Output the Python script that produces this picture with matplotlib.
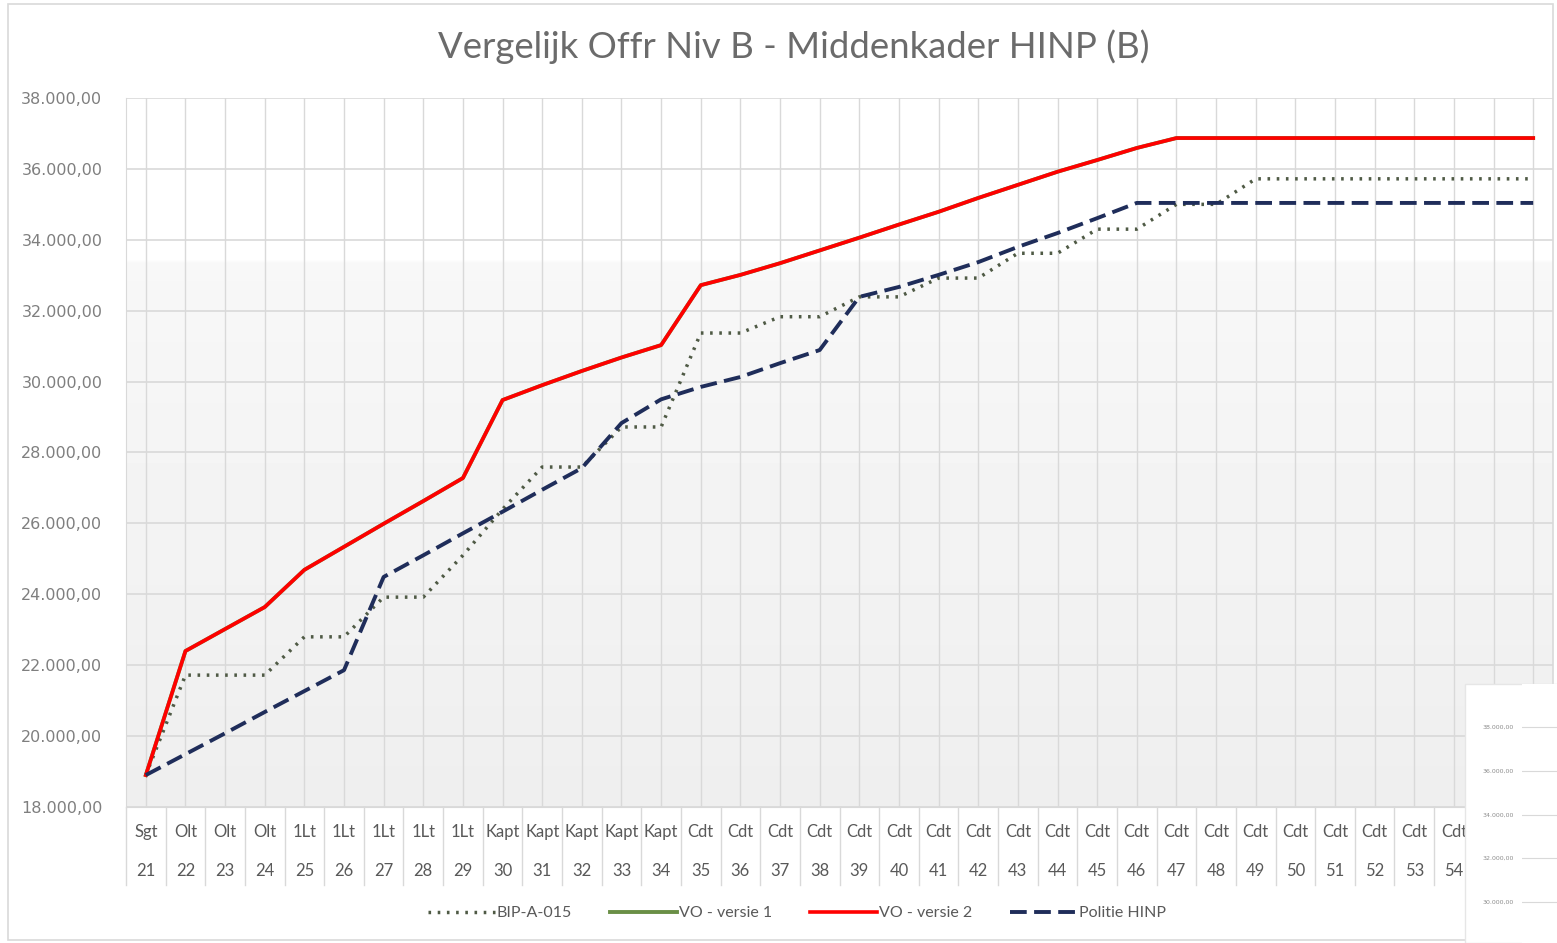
import matplotlib
matplotlib.use("Agg")
import matplotlib.pyplot as plt
import matplotlib.transforms as mtransforms
from matplotlib.patches import Rectangle
import numpy as np

# ---------------- data ----------------
ages = [21, 22, 23, 24, 25, 26, 27, 28, 29, 30, 31, 32, 33, 34, 35, 36, 37, 38,
        39, 40, 41, 42, 43, 44, 45, 46, 47, 48, 49, 50, 51, 52, 53, 54, 55, 56]
ranks = ["Sgt", "Olt", "Olt", "Olt", "1Lt", "1Lt", "1Lt", "1Lt", "1Lt",
         "Kapt", "Kapt", "Kapt", "Kapt", "Kapt",
         "Cdt", "Cdt", "Cdt", "Cdt", "Cdt", "Cdt", "Cdt", "Cdt", "Cdt", "Cdt", "Cdt",
         "Cdt", "Cdt", "Cdt", "Cdt", "Cdt", "Cdt", "Cdt", "Cdt", "Cdt", "Cdt", "Cdt"]

bip_a_015 = [18900, 21720, 21720, 21720, 22800, 22800, 23920, 23920, 25100, 26400,
             27590, 27590, 28720, 28720, 31370, 31370, 31830, 31830, 32390, 32390,
             32920, 32920, 33620, 33620, 34300, 34300, 35000, 35000, 35720, 35720,
             35720, 35720, 35720, 35720, 35720, 35720]
vo_versie_1 = [18900, 22400, 23020, 23640, 24690, 25340, 25990, 26630, 27280, 29480,
               29900, 30300, 30680, 31030, 32720, 33010, 33340, 33700, 34060, 34430,
               34790, 35180, 35550, 35920, 36250, 36590, 36870, 36870, 36870, 36870,
               36870, 36870, 36870, 36870, 36870, 36870]
vo_versie_2 = [18900, 22400, 23020, 23640, 24690, 25340, 25990, 26630, 27280, 29480,
               29900, 30300, 30680, 31030, 32720, 33010, 33340, 33700, 34060, 34430,
               34790, 35180, 35550, 35920, 36250, 36590, 36870, 36870, 36870, 36870,
               36870, 36870, 36870, 36870, 36870, 36870]
politie_hinp = [18900, 19490, 20080, 20680, 21270, 21860, 24490, 25100, 25720, 26330,
                26950, 27560, 28830, 29500, 29850, 30130, 30520, 30890, 32390, 32670,
                33010, 33370, 33800, 34190, 34610, 35040, 35040, 35040, 35040, 35040,
                35040, 35040, 35040, 35040, 35040, 35040]

y_ticks = [18000, 20000, 22000, 24000, 26000, 28000, 30000, 32000, 34000, 36000, 38000]
inset_ticks = [30000, 32000, 34000, 36000, 38000]

title = "Vergelijk Offr Niv B - Middenkader HINP (B)"

# ---------------- figure ----------------
W, H = 1557, 943
fig = plt.figure(figsize=(W / 100, H / 100), dpi=100)
fig.patch.set_facecolor("white")

def fx(px):
    return px / W

def fy(py):
    return 1 - py / H

def fmt(v):
    return f"{v:,.2f}".replace(",", "X").replace(".", ",").replace("X", ".")

# outer chart border
fig.patches.append(Rectangle((fx(8), fy(940)), fx(1553) - fx(8), fy(4) - fy(940),
                             transform=fig.transFigure, facecolor="none",
                             edgecolor="#d9d9d9", lw=1.2, zorder=0))

ax_l, ax_r, ax_t, ax_b = 126, 1553, 98, 807
ax = fig.add_axes([fx(ax_l), fy(ax_b), fx(ax_r) - fx(ax_l), fy(ax_t) - fy(ax_b)])
ax.set_xlim(20.5, 56.5)
ax.set_ylim(18000, 38000)

# background gradient in plot area
grad = np.ones((200, 1))
vals = np.linspace(0, 1, 200)  # 0 bottom, 1 top
grad[:, 0] = np.where(vals > 0.77, 1.0, 0.935 + (vals / 0.77) * 0.035)
ax.imshow(grad, extent=[20.5, 56.5, 18000, 38000], origin="lower", aspect="auto",
          cmap="gray", vmin=0, vmax=1, zorder=0, interpolation="bilinear")

# grid
for yv in y_ticks:
    ax.axhline(yv, color="#d9d9d9", lw=1.2, zorder=1)
for xv in ages:
    ax.axvline(xv, color="#d9d9d9", lw=1.0, zorder=1)

for s in ["top", "right"]:
    ax.spines[s].set_visible(False)
ax.spines["left"].set_color("#d9d9d9")
ax.spines["bottom"].set_color("#d9d9d9")

ax.set_yticks(y_ticks)
ax.set_yticklabels([fmt(v) for v in y_ticks])
ax.tick_params(axis="y", length=0, pad=17, labelsize=11.5, labelcolor="#7f7f7f")
for lab in ax.get_yticklabels():
    lab.set_fontfamily("DejaVu Sans")
ax.set_xticks([])

# series
ln_bip, = ax.plot(ages, bip_a_015, color="#4f5a45", lw=2.5, linestyle=(0, (0.75, 1.9)),
                  dash_capstyle="butt", label="BIP-A-015", zorder=3)
ln_v1, = ax.plot(ages, vo_versie_1, color="#6a8f46", lw=2.8, label="VO - versie 1", zorder=2)
ln_v2, = ax.plot(ages, vo_versie_2, color="#ff0000", lw=2.6, label="VO - versie 2", zorder=4)
ln_pol, = ax.plot(ages, politie_hinp, color="#1f2d5a", lw=2.8, linestyle=(0, (4.3, 1.9)),
                  label="Politie HINP", zorder=5)

# category label boxes
trans = mtransforms.blended_transform_factory(ax.transData, ax.transAxes)
box_h = (885 - ax_b) / (ax_b - ax_t)
row1 = -(832 - ax_b) / (ax_b - ax_t)
row2 = -(871 - ax_b) / (ax_b - ax_t)
for i, a in enumerate(ages):
    ax.plot([a - 0.5, a - 0.5], [0, -box_h], transform=trans, color="#d9d9d9",
            lw=1.0, clip_on=False)
    ax.text(a, row1, ranks[i], transform=trans, ha="center", va="center",
            fontsize=12, color="#595959", family="Lato")
    ax.text(a, row2, str(a), transform=trans, ha="center", va="center",
            fontsize=12, color="#595959", family="Lato")
ax.plot([ages[-1] + 0.5, ages[-1] + 0.5], [0, -box_h], transform=trans,
        color="#d9d9d9", lw=1.0, clip_on=False)

# title
fig.text(fx(794), fy(47), title, ha="center", va="center", fontsize=26.3,
         color="#6b6b6b", family="Lato")

# legend
leg = fig.legend(handles=[ln_bip, ln_v1, ln_v2, ln_pol], loc="center",
                 bbox_to_anchor=(fx(797), fy(913)), ncol=4, frameon=False,
                 handlelength=4.2, handletextpad=0.1, columnspacing=2.4,
                 prop={"family": "Lato", "size": 11.5})
for t in leg.get_texts():
    t.set_color("#595959")

# overlapping thumbnail (bottom right)
fig.patches.append(Rectangle((fx(1465), 0), 1 - fx(1465), fy(684), transform=fig.transFigure,
                             facecolor="white", edgecolor="#e6e6e6", lw=1.0, zorder=10))
ax2 = fig.add_axes([fx(1522), 0, 1 - fx(1522), fy(684)], zorder=11)
ax2.set_xlim(0, 1)
ax2.set_ylim(38000 - (943 - 727) / 43.75 * 2000, 38000 + (727 - 684) / 43.75 * 2000)
ax2.set_facecolor("white")
for s in ax2.spines.values():
    s.set_visible(False)
for v in inset_ticks:
    ax2.axhline(v, color="#d9d9d9", lw=0.8)
ax2.set_xticks([])
ax2.set_yticks(inset_ticks)
ax2.set_yticklabels([fmt(v) for v in inset_ticks])
ax2.tick_params(axis="y", length=0, pad=6, labelsize=4.5, labelcolor="#8c8c8c")

fig.savefig("out.png", dpi=100, facecolor="white")
